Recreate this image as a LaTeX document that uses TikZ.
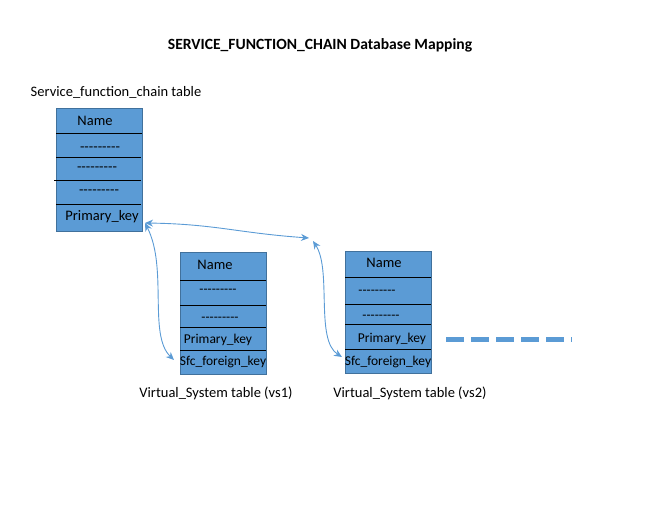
\documentclass[tikz,border=0pt]{standalone}
\usepackage{fontspec}
\setmainfont{Carlito}
\usetikzlibrary{arrows.meta}

\definecolor{tblfill}{RGB}{91,155,213}
\definecolor{tbledge}{RGB}{65,113,156}
\newcommand{\fillrow}{-{}-{}-{}-{}-{}-{}-{}-{}-}

\begin{document}
\begin{tikzpicture}[x=1pt,y=-1pt,
    tbl/.style={draw=tbledge, fill=tblfill, minimum width=86pt, inner sep=0pt, anchor=north west},
    sep/.style={draw=black, line width=0.8pt},
    link/.style={draw=tblfill, line width=0.9pt, {Stealth[length=8pt,width=7pt]}-{Stealth[length=8pt,width=7pt]}},
    font=\fontsize{14.5}{17}\selectfont]

      \useasboundingbox (0,0) rectangle (664,511);

      % title and table captions
      \node[font=\fontsize{15.6}{18}\selectfont\bfseries] (title) at (320,45) {SERVICE\_FUNCTION\_CHAIN Database Mapping};
      \node (cap1) at (116,92) {Service\_function\_chain table};
      \node (cap2) at (216,393) {Virtual\_System table (vs1)};
      \node (cap3) at (410,393) {Virtual\_System table (vs2)};

      % table boxes
      \node[tbl, minimum height=123pt] (t1) at (56,108) {};
      \node[tbl, minimum height=122pt] (t2) at (180,252) {};
      \node[tbl, minimum height=122pt] (t3) at (345,251) {};

      \draw[sep] (56,133) -- (142,133);
      \draw[sep] (56,157) -- (141,157);
      \draw[sep] (54,180) -- (141,180);
      \draw[sep] (56,204) -- (141,204);

      \draw[sep] (180,280) -- (266,280);
      \draw[sep] (180,305) -- (266,305);
      \draw[sep] (180,327) -- (266,327);
      \draw[sep] (180,350) -- (266,350);

      \draw[sep] (345,277) -- (431,277);
      \draw[sep] (345,304) -- (431,304);
      \draw[sep] (345,324) -- (431,324);
      \draw[sep] (345,349) -- (431,349);

      \begin{scope}[every node/.style={inner sep=0pt}]
        \node (t1name) at (95,121)  {Name};
        \node (t1r1)   at (100,149) {\fillrow};
        \node (t1r2)   at (97,169)  {\fillrow};
        \node (t1r3)   at (99,192)  {\fillrow};
        \node (t1pk)   at (102,217) {Primary\_key};
        \node (t2name) at (215,265) {Name};
        \node (t3name) at (384,263) {Name};
      \end{scope}

      \begin{scope}[every node/.style={inner sep=0pt, font=\fontsize{13.5}{16}\selectfont}]
        \node (t2r1)   at (218,291) {\fillrow};
        \node (t2r2)   at (220,319) {\fillrow};
        \node (t2pk)   at (218,340) {Primary\_key};
        \node (t2fk)   at (223,362) {Sfc\_foreign\_key};

        \node (t3r1)   at (377,292) {\fillrow};
        \node (t3r2)   at (381,317) {\fillrow};
        \node (t3pk)   at (392,339) {Primary\_key};
        \node (t3fk)   at (388,362) {Sfc\_foreign\_key};
      \end{scope}

      % link ends
      \coordinate (pkport) at (145,223);
      \coordinate (vs2in)  at (309,238);
      \coordinate (vs2out) at (313,241);
      \coordinate (fk1)    at (174,360);
      \coordinate (fk2)    at (342,357);

      \draw[link] (pkport) .. controls (215,224) and (238,233) .. (vs2in);
      \draw[link] (pkport) .. controls (168,268) and (148,335) .. (fk1);
      \draw[link] (vs2out) .. controls (332,270) and (315,340) .. (fk2);

      % more tables follow
      \draw[tblfill, line width=5pt, dash pattern=on 18pt off 7pt] (446,339) -- (572,339);

    \end{tikzpicture}
\end{document}
